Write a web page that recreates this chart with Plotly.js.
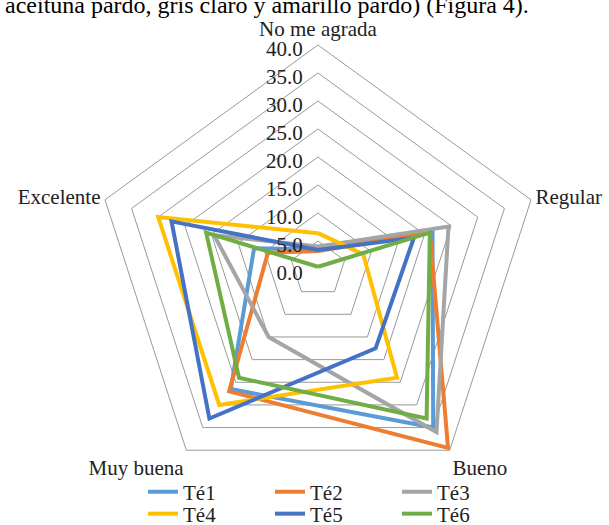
<!DOCTYPE html>
<html>
<head>
<meta charset="utf-8">
<script src="https://cdn.plot.ly/plotly-3.0.1.min.js"></script>
<style>html,body{margin:0;padding:0;background:#fff;}#chart{width:609px;height:525px;}</style>
</head>
<body>
<div id="chart"></div>
<script>
const categories = ["No me agrada", "Regular", "Bueno", "Muy buena", "Excelente"];
const seriesNames = ["Té1", "Té2", "Té3", "Té4", "Té5", "Té6"];
const te1 = [3.5, 21.5, 35.0, 26.5, 12.0];
const te2 = [3.2, 21.0, 39.5, 27.0, 9.4];
const te3 = [4.0, 24.5, 36.0, 15.0, 19.5];
const te4 = [6.4, 8.5, 24.0, 30.0, 30.0];
const te5 = [3.4, 18.0, 17.5, 33.0, 27.5];
const te6 = [0.4, 21.0, 33.0, 24.0, 21.0];
const radialTicks = [0, 5, 10, 15, 20, 25, 30, 35, 40];
const headerText = "aceituna pardo, gris claro y amarillo pardo) (Figura 4).";

const colors = ["#5B9BD5", "#ED7D31", "#A5A5A5", "#FFC000", "#4472C4", "#70AD47"];
const allValues = [te1, te2, te3, te4, te5, te6];
const FONT = "Liberation Serif, Times New Roman, serif";

const traces = allValues.map((vals, i) => ({
  type: "scatterpolar",
  mode: "lines",
  name: seriesNames[i],
  r: vals.concat([vals[0]]),
  theta: categories.concat([categories[0]]),
  line: {color: colors[i], width: 4},
  legend: i < 3 ? "legend" : "legend2",
  hoverinfo: "skip"
}));

const cx = 318, cy = 269, R = 224, W = 609, H = 525;
const legendCommon = {
  orientation: "h",
  xanchor: "left",
  yanchor: "middle",
  x: 143 / W,
  entrywidth: 82,
  entrywidthmode: "pixels",
  bgcolor: "rgba(0,0,0,0)",
  font: {family: FONT, size: 21, color: "#222"},
  itemclick: false
};

const layout = {
  width: W, height: H,
  margin: {l: 0, r: 0, t: 0, b: 0, autoexpand: false},
  paper_bgcolor: "#fff",
  font: {family: FONT, size: 21, color: "#222"},
  showlegend: true,
  legend: Object.assign({}, legendCommon, {y: (H - 492) / H}),
  legend2: Object.assign({}, legendCommon, {y: (H - 514) / H}),
  polar: {
    domain: {x: [(cx - R) / W, (cx + R) / W], y: [(H - cy - R) / H, (H - cy + R) / H]},
    gridshape: "linear",
    bgcolor: "#fff",
    angularaxis: {
      direction: "clockwise",
      rotation: 90,
      type: "category",
      categoryarray: categories,
      showgrid: false,
      showline: true,
      linecolor: "#999",
      linewidth: 1,
      ticks: "",
      tickfont: {family: FONT, size: 21, color: "#222"}
    },
    radialaxis: {
      range: [0, 40],
      tickvals: radialTicks,
      tickformat: ".1f",
      ticksuffix: "\u00a0\u00a0\u00a0",
      angle: 90,
      side: "counterclockwise",
      showline: false,
      showgrid: true,
      gridcolor: "#999",
      gridwidth: 1,
      ticks: "",
      tickfont: {family: FONT, size: 21, color: "#222"}
    }
  },
  annotations: [{
    text: headerText,
    xref: "paper", yref: "paper",
    x: 3 / W, y: (H - 5) / H,
    xanchor: "left", yanchor: "middle",
    showarrow: false,
    font: {family: FONT, size: 24, color: "#000"}
  }]
};

Plotly.newPlot("chart", traces, layout, {displayModeBar: false, staticPlot: true});
</script>
</body>
</html>
